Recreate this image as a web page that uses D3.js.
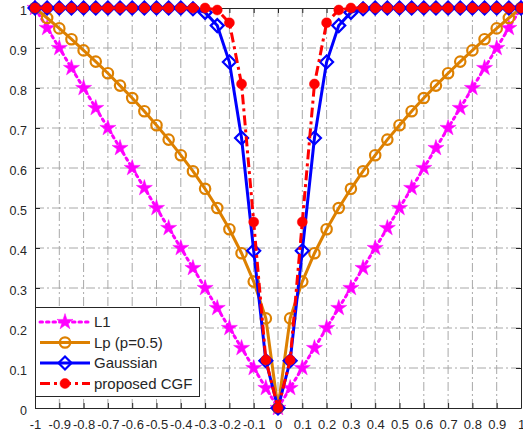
<!DOCTYPE html>
<html>
<head>
<meta charset="utf-8">
<script src="https://cdn.jsdelivr.net/npm/d3@7"></script>
<style>
  body { margin: 0; background: #fff; }
  text { font-family: "Liberation Sans", Arial, Helvetica, sans-serif; fill: #262626; }
</style>
</head>
<body>
<div id="chart"></div>
<script>
// x positions (error values)
const xVals = [-1, -0.95, -0.9, -0.85, -0.8, -0.75, -0.7, -0.65, -0.6, -0.55, -0.5,
  -0.45, -0.4, -0.35, -0.3, -0.25, -0.2, -0.15, -0.1, -0.05, 0,
  0.05, 0.1, 0.15, 0.2, 0.25, 0.3, 0.35, 0.4, 0.45, 0.5,
  0.55, 0.6, 0.65, 0.7, 0.75, 0.8, 0.85, 0.9, 0.95, 1];

const l1Vals = [1, 0.95, 0.9, 0.85, 0.8, 0.75, 0.7, 0.65, 0.6, 0.55, 0.5,
  0.45, 0.4, 0.35, 0.3, 0.25, 0.2, 0.15, 0.1, 0.05, 0,
  0.05, 0.1, 0.15, 0.2, 0.25, 0.3, 0.35, 0.4, 0.45, 0.5,
  0.55, 0.6, 0.65, 0.7, 0.75, 0.8, 0.85, 0.9, 0.95, 1];

const lpVals = [1, 0.975, 0.949, 0.922, 0.894, 0.866, 0.837, 0.806, 0.775, 0.742, 0.707,
  0.671, 0.632, 0.592, 0.548, 0.5, 0.447, 0.387, 0.316, 0.224, 0,
  0.224, 0.316, 0.387, 0.447, 0.5, 0.548, 0.592, 0.632, 0.671, 0.707,
  0.742, 0.775, 0.806, 0.837, 0.866, 0.894, 0.922, 0.949, 0.975, 1];

const gaussVals = [1, 1, 1, 1, 1, 1, 1, 1, 1, 1, 1,
  1, 1, 0.998, 0.989, 0.956, 0.865, 0.675, 0.393, 0.118, 0,
  0.118, 0.393, 0.675, 0.865, 0.956, 0.989, 0.998, 1, 1, 1,
  1, 1, 1, 1, 1, 1, 1, 1, 1, 1];

const cgfVals = [1, 1, 1, 1, 1, 1, 1, 1, 1, 1, 1,
  1, 1, 1, 1, 0.995, 0.963, 0.81, 0.465, 0.12, 0,
  0.12, 0.465, 0.81, 0.963, 0.995, 1, 1, 1, 1, 1,
  1, 1, 1, 1, 1, 1, 1, 1, 1, 1];

const seriesNames = ["L1", "Lp (p=0.5)", "Gaussian", "proposed CGF"];
const xTicks = [-1, -0.9, -0.8, -0.7, -0.6, -0.5, -0.4, -0.3, -0.2, -0.1, 0,
  0.1, 0.2, 0.3, 0.4, 0.5, 0.6, 0.7, 0.8, 0.9, 1];
const yTicks = [0, 0.1, 0.2, 0.3, 0.4, 0.5, 0.6, 0.7, 0.8, 0.9, 1];

const W = 523, H = 438;
const plotL = 35, plotR = 521, plotT = 8, plotB = 408;

const svg = d3.select("#chart").append("svg")
  .attr("width", W).attr("height", H);

const x = d3.scaleLinear().domain([-1, 1]).range([plotL, plotR]);
const y = d3.scaleLinear().domain([0, 1]).range([plotB, plotT]);

// plain hyphen minus like the original figure
const tickFmt = d => String(d);

// grid
const grid = svg.append("g").attr("stroke", "#a8a8a8").attr("stroke-width", 1)
  .attr("stroke-dasharray", "9 3 2 3");
grid.selectAll("line.gx").data(xTicks.slice(1, -1)).join("line")
  .attr("x1", d => x(d)).attr("x2", d => x(d)).attr("y1", plotB).attr("y2", plotT);
grid.selectAll("line.gy").data(yTicks.slice(1, -1)).join("line")
  .attr("y1", d => y(d)).attr("y2", d => y(d)).attr("x1", plotL).attr("x2", plotR);

// axes
const axisColor = "#262626";
const gxAxis = svg.append("g").attr("transform", `translate(0,${plotB})`)
  .call(d3.axisBottom(x).tickValues(xTicks).tickSizeInner(-5).tickSizeOuter(0).tickPadding(12).tickFormat(tickFmt));
const gyAxis = svg.append("g").attr("transform", `translate(${plotL},0)`)
  .call(d3.axisLeft(y).tickValues(yTicks).tickSizeInner(-5).tickSizeOuter(0).tickPadding(8).tickFormat(tickFmt));
svg.append("g").attr("transform", `translate(0,${plotT})`)
  .call(d3.axisTop(x).tickValues(xTicks).tickSizeInner(-5).tickSizeOuter(0).tickFormat(""));
svg.append("g").attr("transform", `translate(${plotR},0)`)
  .call(d3.axisRight(y).tickValues(yTicks).tickSizeInner(-5).tickSizeOuter(0).tickFormat(""));
svg.selectAll(".domain, .tick line").attr("stroke", axisColor);
gxAxis.selectAll("text").attr("font-size", 13).attr("fill", axisColor)
  .attr("font-family", "Liberation Sans, Arial, sans-serif");
gyAxis.selectAll("text").attr("font-size", 12.5).attr("fill", axisColor)
  .attr("dy", "0.5em")
  .attr("font-family", "Liberation Sans, Arial, sans-serif");

// series
const series = [
  { name: seriesNames[0], vals: l1Vals, color: "#ff00ff", dash: "2.5 4", marker: "star" },
  { name: seriesNames[1], vals: lpVals, color: "#dd8000", dash: null, marker: "circleOpen" },
  { name: seriesNames[2], vals: gaussVals, color: "#0000ff", dash: null, marker: "diamond" },
  { name: seriesNames[3], vals: cgfVals, color: "#ff0000", dash: "10 4 3 4", marker: "circleFill" }
];

const line = d3.line().x((d, i) => x(xVals[i])).y(d => y(d));

function drawMarker(g, type, color) {
  if (type === "star") {
    g.append("path").attr("d", d3.symbol(d3.symbolStar, 80)())
      .attr("fill", color).attr("stroke", color).attr("stroke-width", 0.5);
  } else if (type === "circleOpen") {
    g.append("circle").attr("r", 5.2).attr("fill", "none")
      .attr("stroke", color).attr("stroke-width", 2.2);
  } else if (type === "diamond") {
    g.append("path").attr("d", "M0,-6.5L6.5,0L0,6.5L-6.5,0Z").attr("fill", "none")
      .attr("stroke", color).attr("stroke-width", 2.2);
  } else {
    g.append("circle").attr("r", 5).attr("fill", color).attr("stroke", color).attr("stroke-width", 0.5);
  }
}

series.forEach(s => {
  const g = svg.append("g");
  g.append("path").datum(s.vals)
    .attr("d", line)
    .attr("fill", "none")
    .attr("stroke", s.color)
    .attr("stroke-width", 3)
    .attr("stroke-linecap", s.marker === "star" ? "round" : "butt")
    .attr("stroke-dasharray", s.dash);
  g.selectAll("g.m").data(s.vals).join("g")
    .attr("transform", (d, i) => `translate(${x(xVals[i])},${y(d)})`)
    .each(function() { drawMarker(d3.select(this), s.marker, s.color); });
});

// legend
const lg = svg.append("g");
lg.append("rect").attr("x", 35.5).attr("y", 307.5).attr("width", 164).attr("height", 89)
  .attr("fill", "#fff").attr("stroke", axisColor).attr("stroke-width", 1);
series.forEach((s, i) => {
  const ly = 322 + i * 20.5;
  lg.append("line").attr("x1", 40).attr("x2", 90).attr("y1", ly).attr("y2", ly)
    .attr("stroke", s.color).attr("stroke-width", 3)
    .attr("stroke-linecap", s.marker === "star" ? "round" : "butt")
    .attr("stroke-dasharray", s.dash);
  const m = lg.append("g").attr("transform", `translate(65,${ly})`);
  drawMarker(m, s.marker, s.color);
  lg.append("text").attr("x", 94).attr("y", ly).attr("dy", "0.35em")
    .attr("font-size", 15).attr("fill", "#000").text(s.name);
});
</script>
</body>
</html>
